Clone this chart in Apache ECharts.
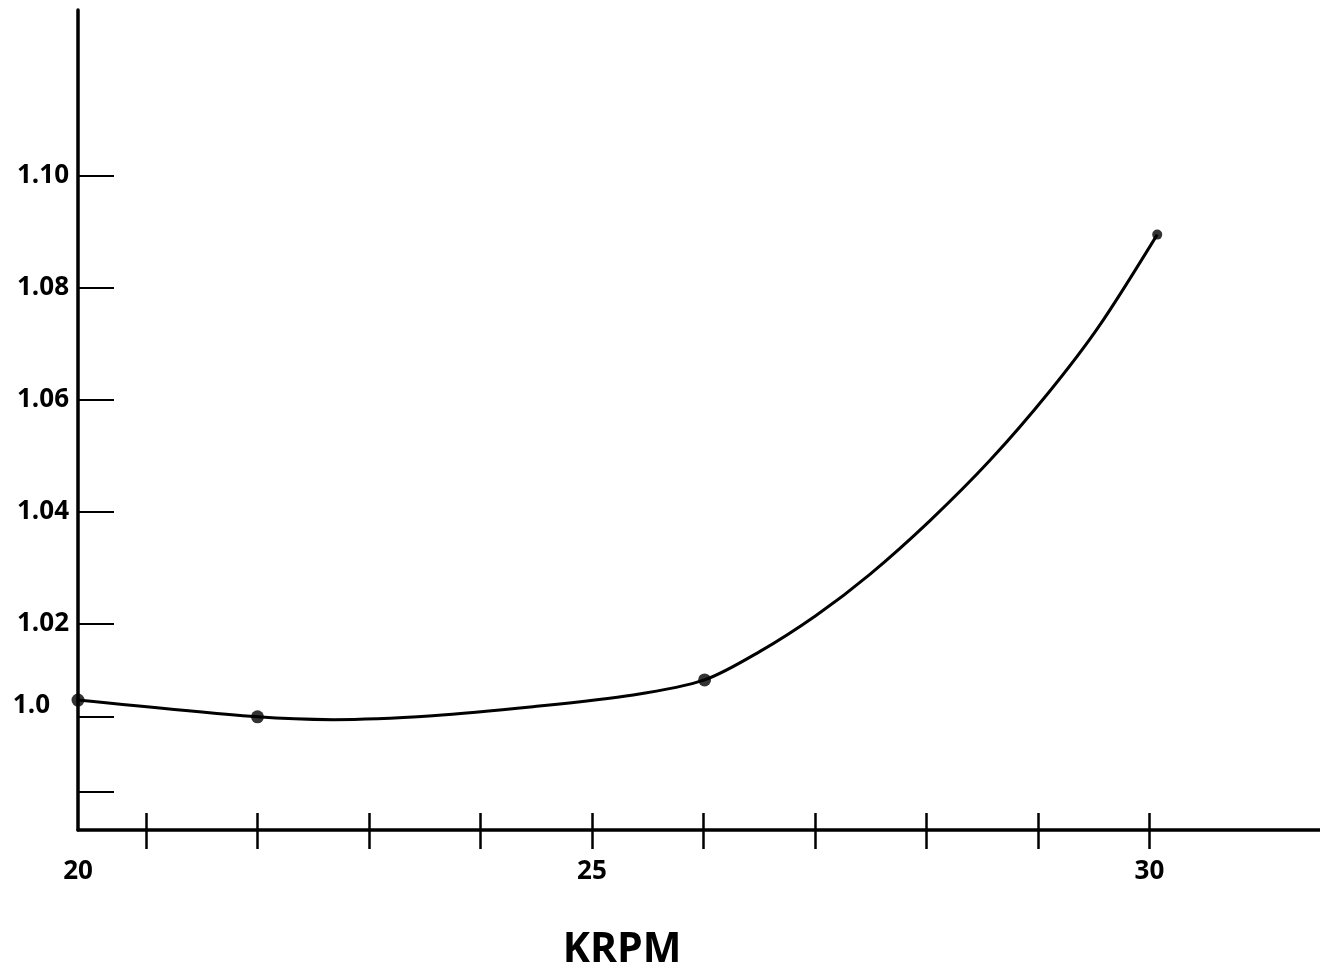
<!DOCTYPE html>
<html>
<head>
<meta charset="utf-8">
<script src="https://cdn.jsdelivr.net/npm/echarts@6/dist/echarts.min.js"></script>
<style>
  html, body { margin: 0; padding: 0; background: #fff; }
  #chart { width: 1320px; height: 979px; }
</style>
</head>
<body>
<div id="chart"></div>
<script>
'use strict';

// curve (KRPM, ratio)
var curveX = [20.39, 22.0, 22.68, 23.57, 24.47, 25.37, 26.01, 26.50, 27.01, 27.49, 28.03, 28.57, 29.10, 29.55, 30.07];
var curveY = [1.0064, 1.0034, 1.0029, 1.0036, 1.0052, 1.0073, 1.0100, 1.0150, 1.0215, 1.0288, 1.0384, 1.0492, 1.0614, 1.0732, 1.0895];

// measured points (dots)
var pointX = [20.39, 22.0, 26.01, 30.07];
var pointY = [1.0064, 1.0034, 1.0100, 1.0895];

// ticks and labels as they sit on the drawing
var xTicks = [21, 22, 23, 24, 25, 26, 27, 28, 29, 30];
var xLabels = [20.39, 25, 30];
var yTicks = [0.99, 1.0034, 1.02, 1.04, 1.06, 1.08, 1.10];
var yLabels = [1.0055, 1.02, 1.04, 1.06, 1.08, 1.10];

var xMin = 20.39, xMax = 31.53;
var yMin = 0.9832, yMax = 1.1296;

var lineData = curveX.map(function (x, i) { return [x, curveY[i]]; });
var dotData = pointX.map(function (x, i) { return [x, pointY[i]]; });

var font = '"Open Sans", "Liberation Sans", sans-serif';

var option = {
  backgroundColor: '#fff',
  animation: false,
  grid: { left: 78, right: 0, top: 10, bottom: 149 },
  xAxis: [{
    type: 'value',
    min: xMin,
    max: xMax,
    axisLine: { lineStyle: { color: '#000', width: 3.5 } },
    axisTick: { show: true, length: 19, customValues: xTicks, lineStyle: { color: '#000', width: 2.5 } },
    axisLabel: {
      customValues: xLabels,
      margin: 29,
      color: '#000',
      fontFamily: font,
      fontWeight: 'bold',
      fontSize: 26,
      lineHeight: 26,
      formatter: function (v) { return String(Math.round(v)); }
    },
    splitLine: { show: false }
  }, {
    // second copy of the axis for the upper half of the crossing ticks
    type: 'value',
    position: 'bottom',
    min: xMin,
    max: xMax,
    axisLine: { show: false },
    axisTick: { show: true, inside: true, length: 17, customValues: xTicks, lineStyle: { color: '#000', width: 2.5 } },
    axisLabel: { show: false },
    splitLine: { show: false }
  }],
  yAxis: {
    type: 'value',
    min: yMin,
    max: yMax,
    axisLine: { show: true, lineStyle: { color: '#000', width: 3.5 } },
    axisTick: { show: true, inside: true, length: 36, customValues: yTicks, lineStyle: { color: '#000', width: 2 } },
    axisLabel: {
      customValues: yLabels,
      margin: 9,
      color: '#000',
      fontFamily: font,
      fontWeight: 'bold',
      fontSize: 26,
      formatter: function (v) {
        if (v < 1.01) return '{s|1.0}';
        return v.toFixed(2);
      },
      rich: {
        s: { padding: [0, 19, 0, 0], color: '#000', fontFamily: font, fontWeight: 'bold', fontSize: 26 }
      }
    },
    splitLine: { show: false }
  },
  graphic: [{
    type: 'text',
    x: 622,
    y: 950,
    style: {
      text: 'KRPM',
      fill: '#000',
      font: 'bold 41px ' + font,
      align: 'center',
      verticalAlign: 'middle'
    }
  }],
  series: [{
    type: 'line',
    data: lineData,
    smooth: 0.3,
    showSymbol: false,
    lineStyle: { color: '#000', width: 3 },
    z: 3
  }, {
    type: 'scatter',
    data: dotData,
    symbol: 'circle',
    symbolSize: function (v, p) { return p.dataIndex === 3 ? 10 : 13; },
    itemStyle: { color: '#000' },
    z: 4
  }]
};

var myChart = echarts.init(document.getElementById('chart'));
myChart.setOption(option);
</script>
</body>
</html>
